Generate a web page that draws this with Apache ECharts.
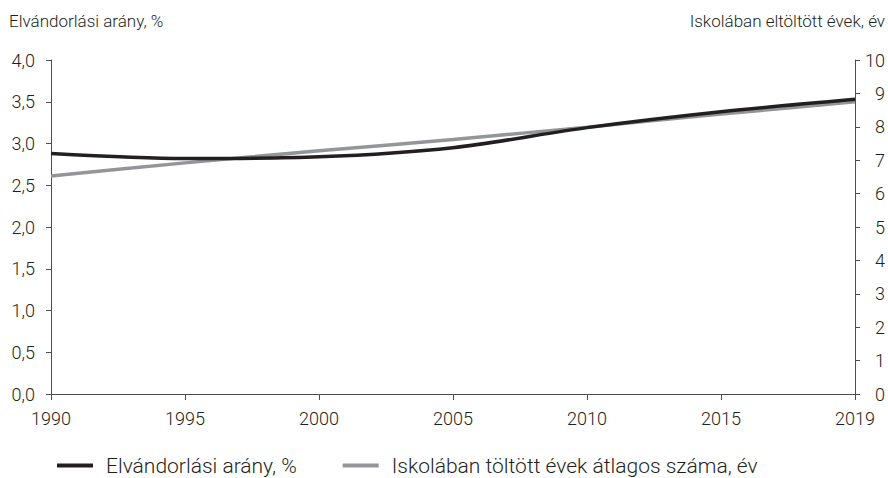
<!DOCTYPE html>
<html>
<head>
<meta charset="utf-8">
<script src="https://cdn.jsdelivr.net/npm/echarts@6/dist/echarts.min.js"></script>
<style>html,body{margin:0;padding:0;background:#fff}#c{width:888px;height:478px}</style>
</head>
<body>
<div id="c"></div>
<script>
const years = ['1990','1995','2000','2005','2010','2015','2019'];
const emigration = [2.88, 2.82, 2.84, 2.95, 3.19, 3.38, 3.53];
const schoolYears = [6.53, 6.92, 7.28, 7.62, 7.99, 8.38, 8.75];
const leftName = 'Elvándorlási arány, %';
const rightName = 'Iskolában eltöltött évek, év';
const seriesNames = ['Elvándorlási arány, %', 'Iskolában töltött évek átlagos száma, év'];

const FONT = 'Roboto, "Noto Sans", sans-serif';
const TXT = '#231f20';
const chart = echarts.init(document.getElementById('c'), null, {renderer: 'svg'});
const lbl = {color: TXT, fontFamily: FONT, fontSize: 18, fontWeight: 300};
const axisCommon = {
  axisLine: {show: true, lineStyle: {color: '#4d4d4f', width: 1}},
  axisTick: {show: true, length: 5, lineStyle: {color: '#4d4d4f'}},
  splitLine: {show: false}
};
chart.setOption({
  animation: false,
  textStyle: {fontFamily: FONT},
  grid: {left: 51, right: 32, top: 60, bottom: 84},
  graphic: [
    {type: 'text', left: 9, top: 12, style: {text: leftName, fill: TXT, font: '300 17px ' + FONT}},
    {type: 'text', right: 3, top: 12, style: {text: rightName, fill: TXT, font: '300 17px ' + FONT, textAlign: 'right'}}
  ],
  legend: {
    left: 57, top: 455, itemWidth: 36, itemHeight: 4, itemGap: 46,
    icon: 'rect', padding: 0,
    textStyle: Object.assign({}, lbl, {fontSize: 21, padding: [0, 0, 0, 8]}),
    data: seriesNames
  },
  xAxis: Object.assign({}, axisCommon, {
    type: 'category', data: years, boundaryGap: false,
    axisTick: {show: true, length: 6, alignWithLabel: true, lineStyle: {color: '#4d4d4f'}},
    axisLabel: Object.assign({}, lbl, {margin: 15, interval: 0})
  }),
  yAxis: [
    Object.assign({}, axisCommon, {
      type: 'value', min: 0, max: 4, interval: 0.5, position: 'left',
      axisLabel: Object.assign({}, lbl, {margin: 16, padding: [0, 0, 11, 0], formatter: v => v.toFixed(1).replace('.', ',')})
    }),
    Object.assign({}, axisCommon, {
      type: 'value', min: 0, max: 10, interval: 1, position: 'right',
      axisLabel: Object.assign({}, lbl, {margin: 30, align: 'right', padding: [0, 0, 11, 0]})
    })
  ],
  series: [
    {name: seriesNames[0], type: 'line', yAxisIndex: 0, data: emigration, showSymbol: false, symbol: 'none', smooth: 0.3,
     lineStyle: {color: '#231f20', width: 3.5}, itemStyle: {color: '#231f20'}, z: 3},
    {name: seriesNames[1], type: 'line', yAxisIndex: 1, data: schoolYears, showSymbol: false, symbol: 'none', smooth: 0.2,
     lineStyle: {color: '#939598', width: 3.5}, itemStyle: {color: '#939598'}, z: 2}
  ]
});
</script>
</body>
</html>
